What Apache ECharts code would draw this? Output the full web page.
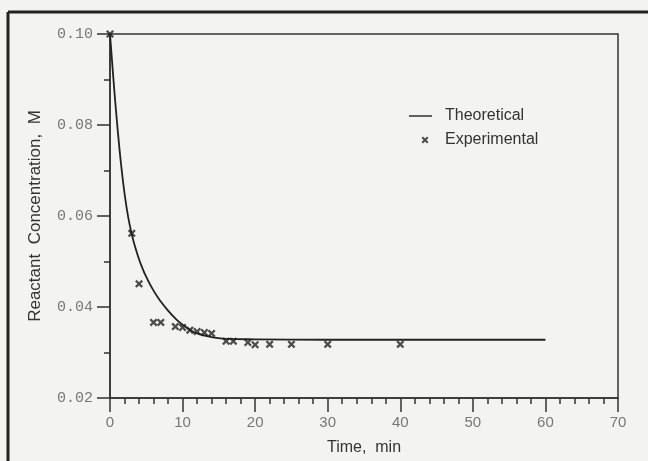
<!DOCTYPE html>
<html>
<head>
<meta charset="utf-8">
<script src="https://cdn.jsdelivr.net/npm/echarts@6/dist/echarts.min.js"></script>
<style>
  html, body { margin: 0; padding: 0; background: #f3f3f1; }
  #main { width: 648px; height: 461px; }
</style>
</head>
<body>
<div id="main"></div>
<script>
// theoretical curve
const theoTime = [0, 0.5, 1, 1.5, 2, 2.5, 3, 3.5, 4, 4.5, 5, 6, 7, 8, 9, 10, 11, 12, 14, 16, 20, 30, 40, 50, 60]
const theoConc = [0.100, 0.0895, 0.0800, 0.0717, 0.0650, 0.0598, 0.0560, 0.0530, 0.0505, 0.0484, 0.0466,
  0.0436, 0.0412, 0.0392, 0.0375, 0.0361, 0.0350, 0.0342, 0.0334, 0.0330, 0.0329, 0.0328, 0.0328, 0.0328, 0.0328]

// experimental points
const expTime = [0, 3, 4, 6, 7, 9, 10, 11, 12, 13, 14, 16, 17, 19, 20, 22, 25, 30, 40]
const expConc = [0.100, 0.0562, 0.0451, 0.0366, 0.0366, 0.0357, 0.0355, 0.0349, 0.0346, 0.0344, 0.0342,
  0.0325, 0.0325, 0.0322, 0.0317, 0.0318, 0.0318, 0.0318, 0.0318]

const seriesNames = ['Theoretical', 'Experimental']

const xMark = 'path://M0,2L2,0L5,3L8,0L10,2L7,5L10,8L8,10L5,7L2,10L0,8L3,5Z'
// legend icons (tiny corner specks keep the box size)
const lineIcon = 'path://M0,6.3H23V7.7H0Z'
const xIcon = 'path://M0,0L0.01,0L0,0.01Z M23,14L22.99,14L23,13.99Z ' +
  'M12.5,4.9L13.9,3.5L16,5.6L18.1,3.5L19.5,4.9L17.4,7L19.5,9.1L18.1,10.5L16,8.4L13.9,10.5L12.5,9.1L14.6,7Z'

const chart = echarts.init(document.getElementById('main'))

const option = {
  backgroundColor: '#f3f3f1',
  animation: false,
  grid: {
    left: 110,
    right: 30,
    top: 34,
    bottom: 60,
    show: true,
    borderColor: '#333',
    borderWidth: 1.5,
    backgroundColor: 'transparent',
  },
  legend: {
    orient: 'vertical',
    left: 409,
    top: 108,
    padding: 0,
    itemWidth: 23,
    itemHeight: 14,
    itemGap: 8,
    textStyle: {
      fontFamily: 'Liberation Sans',
      fontSize: 16,
      color: '#333',
      padding: [0, 0, 0, 8],
    },
    data: [
      { name: seriesNames[0], icon: lineIcon },
      { name: seriesNames[1], icon: xIcon },
    ],
  },
  xAxis: {
    type: 'value',
    min: 0,
    max: 70,
    interval: 10,
    name: 'Time,  min',
    nameLocation: 'middle',
    nameGap: 42,
    nameTextStyle: { fontFamily: 'Liberation Sans', fontSize: 16, color: '#333' },
    axisLine: { lineStyle: { color: '#333', width: 1.5 } },
    axisTick: { length: 14, lineStyle: { color: '#333', width: 1.5 } },
    minorTick: { show: true, splitNumber: 5, length: 6, lineStyle: { color: '#333', width: 1.5 } },
    splitLine: { show: false },
    axisLabel: { margin: 17, fontFamily: 'Liberation Sans', fontSize: 15, color: '#777' },
  },
  yAxis: {
    type: 'value',
    min: 0.02,
    max: 0.10,
    interval: 0.02,
    name: 'Reactant  Concentration,  M',
    nameLocation: 'middle',
    nameGap: 66,
    nameTextStyle: { fontFamily: 'Liberation Sans', fontSize: 17, color: '#333' },
    axisLine: { lineStyle: { color: '#333', width: 1.5 } },
    axisTick: { length: 13, lineStyle: { color: '#333', width: 1.5 } },
    minorTick: { show: true, splitNumber: 2, length: 6, lineStyle: { color: '#333', width: 1.5 } },
    splitLine: { show: false },
    axisLabel: {
      margin: 17,
      fontFamily: 'Liberation Mono',
      fontSize: 15,
      color: '#777',
      formatter: (v) => v.toFixed(2),
    },
  },
  graphic: [
    // outer frame of the figure
    { type: 'line', shape: { x1: 8, y1: 12, x2: 648, y2: 12 }, style: { stroke: '#222', lineWidth: 3 } },
    { type: 'line', shape: { x1: 8, y1: 12, x2: 8, y2: 461 }, style: { stroke: '#222', lineWidth: 3 } },
  ],
  series: [
    {
      name: seriesNames[0],
      type: 'line',
      data: theoTime.map((t, i) => [t, theoConc[i]]),
      symbol: 'none',
      smooth: 0.5,
      color: '#222',
      lineStyle: { color: '#222', width: 1.8 },
      z: 3,
    },
    {
      name: seriesNames[1],
      type: 'scatter',
      data: expTime.map((t, i) => [t, expConc[i]]),
      symbol: xMark,
      symbolSize: 8,
      clip: false,
      color: '#222',
      itemStyle: { color: '#222' },
      z: 4,
    },
  ],
}

chart.setOption(option)
</script>
</body>
</html>
